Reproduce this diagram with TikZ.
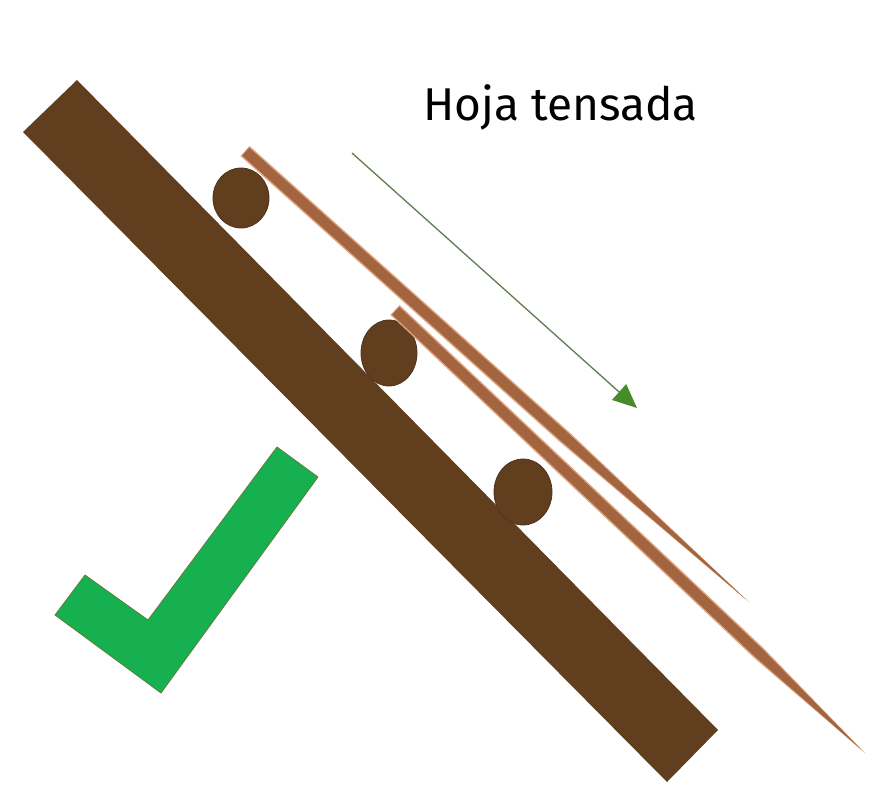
\documentclass[tikz,border=0pt]{standalone}
\usepackage{fontspec}
\setmainfont{Fira Sans}
\usetikzlibrary{arrows.meta}
\definecolor{wood}{RGB}{96,62,30}
\definecolor{woodedge}{RGB}{78,52,30}
\definecolor{stickdark}{RGB}{163,100,64}
\definecolor{stickhi}{RGB}{222,165,130}
\definecolor{checkgreen}{RGB}{22,176,80}
\definecolor{checkedge}{RGB}{95,125,55}
\definecolor{arrowgreen}{RGB}{95,125,80}
\definecolor{headgreen}{RGB}{70,140,40}
\tikzset{
  board/.style={fill=wood},
  knot/.style={fill=wood, draw=woodedge, line width=0.8pt},
  stickouter/.style={fill=stickhi},
  stickinner/.style={fill=stickdark},
  checkshape/.style={fill=checkgreen, draw=checkedge, line width=0.8pt},
  motion/.style={draw=arrowgreen, line width=1.3pt,
    -{Triangle[length=24pt,width=21pt,color=headgreen]}}
}
\begin{document}
\begin{tikzpicture}[x=1pt,y=-1pt]
\useasboundingbox (0,0) rectangle (870,785);
% board
\path[board] (77,80) -- (718,730) -- (667,782) -- (23,132) -- cycle;
% knots / rollers
\path[knot] (241,198) ellipse [x radius=28, y radius=30];
\path[knot] (389,353) ellipse [x radius=28, y radius=33];
\path[knot] (523,492) ellipse [x radius=29, y radius=33];
% upper stick
\begin{scope}[shift={(245,151)}, rotate=-41.83]
  \path[stickouter] (0,-6.8) -- (430,-6.8) -- (678,0) -- (430,6.8) -- (0,6.8) -- cycle;
  \path[stickinner] (1,-5.3) -- (430,-5.3) -- (672,0) -- (430,5.3) -- (1,5.3) -- cycle;
\end{scope}
% lower stick
\begin{scope}[shift={(395,310)}, rotate=-43.31]
  \path[stickouter] (0,-6.8) -- (500,-6.8) -- (647,0) -- (500,6.8) -- (0,6.8) -- cycle;
  \path[stickinner] (1,-5.3) -- (500,-5.3) -- (641,0) -- (500,5.3) -- (1,5.3) -- cycle;
\end{scope}
% arrow
\coordinate (a1) at (352,153);
\coordinate (a2) at (637,408);
\draw[motion] (a1) -- (a2);
% check mark
\path[checkshape] (277,447) -- (318,477) -- (161,693) -- (55,615) -- (85,575) -- (148,620) -- cycle;
% title
\node[anchor=base west, inner sep=0pt, font=\fontsize{46}{52}\selectfont] (title) at (423,120) {Hoja tensada};
\end{tikzpicture}
\end{document}
